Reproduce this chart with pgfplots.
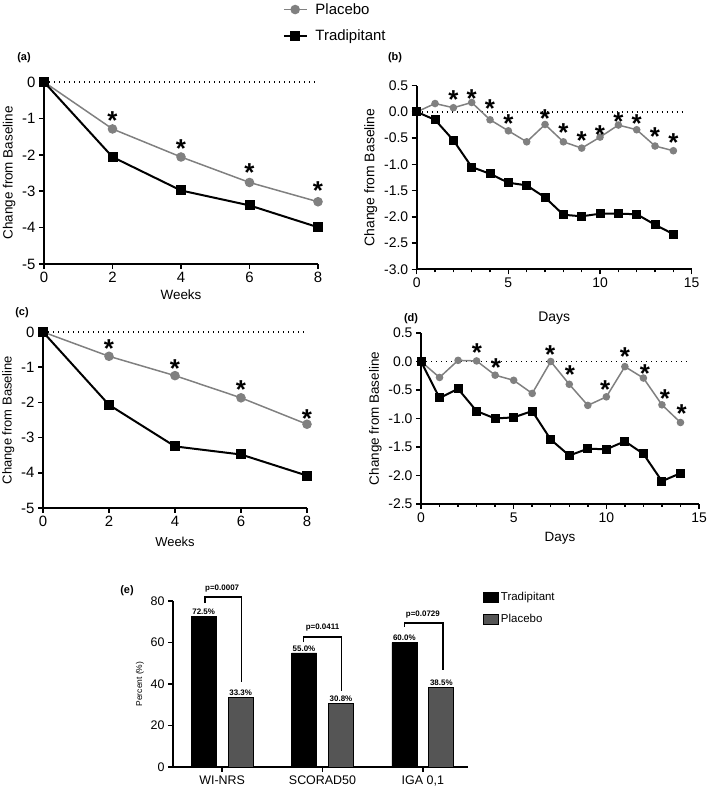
\documentclass[border=0pt]{standalone}
\usepackage{fontspec}
\setmainfont{Liberation Sans}
\usepackage{pgfplots}
\usepackage{pgfplotstable}
\pgfplotsset{compat=1.18}

\definecolor{placebo}{RGB}{128,128,128}
\definecolor{placebobar}{RGB}{85,85,85}

% weekly data, panels (a) and (c)
\pgfplotstableread{
wk pla tra
0 0 0
2 -1.29 -2.06
4 -2.06 -2.98
6 -2.76 -3.39
8 -3.29 -3.99
}\dataA
\pgfplotstableread{
wk y
2 -0.90
4 -1.68
6 -2.34
8 -2.82
}\starA
\pgfplotstableread{
wk pla tra
0 0 0
2 -0.69 -2.07
4 -1.24 -3.25
6 -1.87 -3.48
8 -2.62 -4.08
}\dataC
\pgfplotstableread{
wk y
2 -0.31
4 -0.88
6 -1.48
8 -2.30
}\starC

% daily data, panels (b) and (d)
\pgfplotstableread{
day pla tra
0 0 0
1 0.16 -0.15
2 0.08 -0.54
3 0.18 -1.05
4 -0.15 -1.18
5 -0.36 -1.35
6 -0.57 -1.40
7 -0.24 -1.63
8 -0.57 -1.96
9 -0.69 -1.99
10 -0.48 -1.94
11 -0.25 -1.94
12 -0.34 -1.95
13 -0.65 -2.15
14 -0.74 -2.33
}\dataB
\pgfplotstableread{
day y
2 0.34
3 0.37
4 0.17
5 -0.12
7 -0.01
8 -0.29
9 -0.43
10 -0.32
11 -0.08
12 -0.12
13 -0.37
14 -0.47
}\starB
\pgfplotstableread{
day pla tra
0 0 0
1 -0.28 -0.64
2 0.02 -0.48
3 0.01 -0.87
4 -0.24 -1.00
5 -0.33 -0.98
6 -0.56 -0.87
7 0.00 -1.37
8 -0.40 -1.65
9 -0.77 -1.53
10 -0.62 -1.54
11 -0.09 -1.40
12 -0.29 -1.62
13 -0.76 -2.10
14 -1.07 -1.96
}\dataD
\pgfplotstableread{
day y
3.02 0.26
4.04 -0.01
6.97 0.23
8.04 -0.13
9.93 -0.39
11.0 0.19
12.08 -0.11
13.16 -0.55
14.06 -0.81
}\starD

\newcommand\fs[1]{\fontsize{#1}{#1}\selectfont}

\pgfplotsset{
  gp/.style={
    scale only axis,
    anchor=south west,
    axis x line*=bottom, axis y line*=left,
    axis line style={line width=1.8bp, -},
    tick style={line width=1.5bp, black},
    tick align=outside,
    major tick length=5bp,
    minor tick length=3bp,
    clip=false,
    /pgf/number format/assume math mode=true,
  },
  pla/.style={color=placebo, line width=1.5bp, mark=*, mark size=#1,
    mark options={fill=placebo, draw=placebo}},
  tra/.style={color=black, line width=2bp, mark=square*, mark size=#1},
  stars/.style={draw=none, mark=none, nodes near coords={*},
    every node near coord/.style={font=\bfseries\fs{#1}, anchor=center, inner sep=0pt, yshift=-0.22*#1 bp}},
  zero/.style={black, line width=1.2bp, dash pattern=on 1.4bp off 3.6bp, mark=none},
}

\begin{document}
\begin{tikzpicture}
\useasboundingbox (0bp,0bp) rectangle (709bp,793bp);

% (a)
\begin{axis}[gp, at={(44bp,529bp)}, width=274bp, height=182bp,
  xmin=0, xmax=8, ymin=-5, ymax=0,
  xtick={0,2,...,8}, ytick={-5,...,0},
  ticklabel style={font=\fs{15}},
  xlabel={Weeks}, ylabel={Change from Baseline},
  label style={font=\fs{13.5}},
  legend style={at={(0.86,1.455)}, anchor=north west, draw=none, fill=none,
    font=\fs{15}, row sep=10bp, cells={anchor=west}},
  legend image code/.code={\draw[mark repeat=2,mark phase=2,#1] plot coordinates {(0cm,0cm) (0.4cm,0cm) (0.8cm,0cm)};
    \path (0.8cm+6bp,0cm);},
]
\addplot[zero, forget plot] coordinates {(0,0) (8,0)};
\addplot[pla=4bp] table[x=wk, y=pla] {\dataA};
\addplot[tra=4bp] table[x=wk, y=tra] {\dataA};
\addplot[stars=26] table[x=wk, y=y] {\starA};
\legend{Placebo, Tradipitant}
\end{axis}

% (b)
\begin{axis}[gp, at={(416.7bp,523.7bp)}, width=275bp, height=183.6bp,
  xmin=0, xmax=15, ymin=-3, ymax=0.5,
  xtick={0,5,10,15}, minor x tick num=4, ytick={-3,-2.5,...,0.5},
  yticklabel style={/pgf/number format/.cd, fixed, fixed zerofill, precision=1},
  ticklabel style={font=\fs{14}},
  xlabel={Days}, ylabel={Change from Baseline},
  label style={font=\fs{14}}, xlabel style={yshift=-17bp},
]
\addplot[zero] coordinates {(0,0) (14.6,0)};
\addplot[pla=3bp] table[x=day, y=pla] {\dataB};
\addplot[tra=3.5bp] table[x=day, y=tra] {\dataB};
\addplot[stars=26] table[x=day, y=y] {\starB};
\end{axis}

% (c)
\begin{axis}[gp, at={(43bp,285bp)}, width=264bp, height=176bp,
  xmin=0, xmax=8, ymin=-5, ymax=0,
  xtick={0,2,...,8}, ytick={-5,...,0},
  ticklabel style={font=\fs{15}},
  xlabel={Weeks}, ylabel={Change from Baseline},
  label style={font=\fs{13}}, xlabel style={yshift=-3bp},
]
\addplot[zero] coordinates {(0,0) (8,0)};
\addplot[pla=4bp] table[x=wk, y=pla] {\dataC};
\addplot[tra=4bp] table[x=wk, y=tra] {\dataC};
\addplot[stars=26] table[x=wk, y=y] {\starC};
\end{axis}

% (d)
\begin{axis}[gp, at={(421bp,289bp)}, width=278bp, height=171bp,
  xmin=0, xmax=15, ymin=-2.5, ymax=0.5,
  xtick={0,5,10,15}, minor x tick num=4, ytick={-2.5,-2,...,0.5},
  yticklabel style={/pgf/number format/.cd, fixed, fixed zerofill, precision=1},
  ticklabel style={font=\fs{14}},
  xlabel={Days}, ylabel={Change from Baseline},
  label style={font=\fs{13.5}}, xlabel style={yshift=-3bp},
]
\addplot[zero] coordinates {(0,0) (14.3,0)};
\addplot[pla=3bp] table[x=day, y=pla] {\dataD};
\addplot[tra=3.5bp] table[x=day, y=tra] {\dataD};
\addplot[stars=26] table[x=day, y=y] {\starD};
\end{axis}

% (e)
\begin{axis}[gp, at={(173bp,26bp)}, width=295bp, height=166bp,
  xmin=-0.49, xmax=2.45, ymin=0, ymax=80,
  xtick={0,1,2}, xticklabels={WI-NRS,SCORAD50,{IGA 0,1}},
  ytick={0,20,...,80},
  xticklabel style={font=\fs{12.5}}, yticklabel style={font=\fs{12.5}},
  ylabel={Percent (\%)}, ylabel style={font=\fs{8.5}},
  legend style={at={(1.04,1.08)}, anchor=north west, draw=none, fill=none,
    font=\fs{11.5}, row sep=9bp, cells={anchor=west}},
  legend image code/.code={\draw[#1] (0bp,-5bp) rectangle (15bp,5bp);},
  every node near coord/.append style={font=\bfseries\fs{8}, inner sep=1.5bp},
]
\addplot[ybar, bar width=25bp, bar shift=-18.5bp, fill=black, draw=black,
  every node near coord/.append style={xshift=-18.5bp},
  nodes near coords={\pgfmathprintnumber[fixed,fixed zerofill,precision=1]{\pgfplotspointmeta}\%}]
  coordinates {(0,72.5) (1,55.0) (2,60.0)};
\addplot[ybar, bar width=25bp, bar shift=18.5bp, fill=placebobar, draw=black, line width=1bp,
  every node near coord/.append style={xshift=18.5bp},
  nodes near coords={\pgfmathprintnumber[fixed,fixed zerofill,precision=1]{\pgfplotspointmeta}\%}]
  coordinates {(0,33.3) (1,30.8) (2,38.5)};
\legend{Tradipitant, Placebo}
\addplot[black, line width=1.4bp, mark=none] coordinates {(-0.17,79) (-0.17,81.9) (0.19,81.9) (0.19,41)};
\addplot[black, line width=1.4bp, mark=none] coordinates {(0.81,60.2) (0.81,62.7) (1.19,62.7) (1.19,36.6)};
\addplot[black, line width=1.4bp, mark=none] coordinates {(1.82,67.5) (1.82,69.4) (2.20,69.4) (2.20,46.8)};
\node[font=\bfseries\fs{8}] at (axis cs:0.0,86.0) {p=0.0007};
\node[font=\bfseries\fs{8}] at (axis cs:1.0,67.0) {p=0.0411};
\node[font=\bfseries\fs{8}] at (axis cs:2.0,73.7) {p=0.0729};
\end{axis}

% panel letters
\node[font=\bfseries\fs{11}] at (24bp,735bp) {(a)};
\node[font=\bfseries\fs{11}] at (395bp,735bp) {(b)};
\node[font=\bfseries\fs{11}] at (22bp,480bp) {(c)};
\node[font=\bfseries\fs{11}] at (411bp,474bp) {(d)};
\node[font=\bfseries\fs{11}] at (127bp,202bp) {(e)};
\end{tikzpicture}
\end{document}
